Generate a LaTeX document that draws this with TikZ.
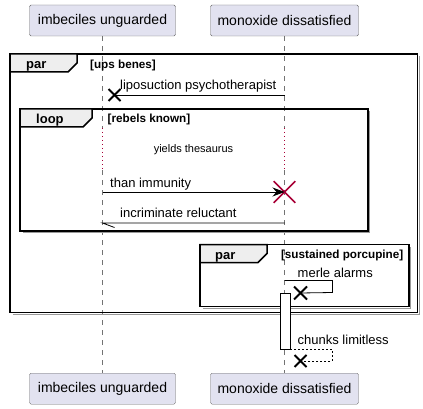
\documentclass[tikz,border=0pt]{standalone}
\usepackage{fontspec}
\setmainfont{Liberation Sans}
\usetikzlibrary{arrows.meta,shapes.misc}
\definecolor{partfill}{HTML}{E2E2F0}
\definecolor{killred}{HTML}{A80036}
\definecolor{tabfill}{HTML}{EEEEEE}
\begin{document}
\begin{tikzpicture}[x=1pt,y=-1pt]
	\tikzstyle{participant}=[draw=black!60,fill=partfill,rounded corners=1.5pt,inner sep=0pt,minimum height=31pt,font=\fontsize{14}{16}\selectfont]
	\tikzstyle{msg}=[font=\fontsize{13}{15}\selectfont,anchor=base west,inner sep=0pt]
	\tikzstyle{guard}=[font=\bfseries\fontsize{11.7}{13}\selectfont,anchor=base west,inner sep=0pt]
	\tikzstyle{tabname}=[font=\bfseries\fontsize{13}{15}\selectfont,anchor=base west,inner sep=0pt]
	\tikzstyle{frame}=[draw=black,line width=1.5pt]
	\tikzstyle{shadow}=[draw=black!40,line width=1.2pt]
	\tikzstyle{lifeline}=[draw=black!55,line width=0.8pt,dash pattern=on 5pt off 5pt]
	\tikzstyle{delay}=[draw=killred,line width=1pt,dash pattern=on 1pt off 3pt]
	\tikzstyle{edge}=[draw,line width=0.8pt]
	\tikzstyle{kill}=[draw,cross out,inner sep=0pt,minimum size=10pt,line width=2pt]
	\useasboundingbox (0,0) rectangle (423,409);

	% participants
	\node [participant,minimum width=146pt] (iu) at (102.5,20.5) {imbeciles unguarded};
	\node [participant,minimum width=148pt] (md) at (284.5,20.5) {monoxide dissatisfied};
	\node [participant,minimum width=146pt] (iuB) at (102.5,388.7) {imbeciles unguarded};
	\node [participant,minimum width=148pt] (mdB) at (284.5,388.7) {monoxide dissatisfied};

	% lifelines, with the delay
	\coordinate (iuD1) at (102.5,128);
	\coordinate (iuD2) at (102.5,170);
	\coordinate (mdD1) at (284.5,128);
	\coordinate (mdD2) at (284.5,170);
	\path[lifeline] (iu) -- (iuD1);
	\path[lifeline] (iuD2) -- (iuB);
	\path[lifeline] (md) -- (mdD1);
	\path[lifeline] (mdD2) -- (mdB);
	\path[delay] (iuD1) -- (iuD2);
	\path[delay] (mdD1) -- (mdD2);
	\node [font=\fontsize{11}{13}\selectfont] (delay) at (193.5,150) {yields thesaurus};

	% outer par
	\draw[shadow] (419.2,56.5) -- (419.2,314.2) -- (12.5,314.2);
	\draw[frame] (10,54) rectangle (417.5,312.5);
	\draw[frame,fill=tabfill] (10,54) -- (77,54) -- (77,63) -- (68,72) -- (10,72) -- cycle;
	\node [tabname] (parA) at (26,69) {par};
	\node [guard] (guardA) at (90,69) {[ups benes]};

	% loop
	\draw[shadow] (369.7,111.5) -- (369.7,232.7) -- (22.5,232.7);
	\draw[frame] (20,109) rectangle (368,231);
	\draw[frame,fill=tabfill] (20,109) -- (92,109) -- (92,118) -- (83,127) -- (20,127) -- cycle;
	\node [tabname] (loopL) at (36,124) {loop};
	\node [guard] (guardL) at (107.5,123) {[rebels known]};

	% inner par
	\draw[shadow] (410.7,247) -- (410.7,308.2) -- (202.5,308.2);
	\draw[frame] (200,244.5) rectangle (409,306.5);
	\draw[frame,fill=tabfill] (200,244.5) -- (267,244.5) -- (267,253.5) -- (258,262.5) -- (200,262.5) -- cycle;
	\node [tabname] (parB) at (215,259.5) {par};
	\node [guard,anchor=base east] (guardB) at (403.5,258.5) {[sustained porcupine]};

	% messages
	\node [kill] (x1) at (114.5,95) {};
	\coordinate (lp) at (284.5,95);
	\path[edge] (lp) -- (x1.center);
	\node [msg] (lpT) at (120,89.5) {liposuction psychotherapist};

	\coordinate (ti) at (102.5,192);
	\node [kill,draw=killred,minimum size=20pt,line width=1.6pt] (x2) at (284.5,192) {};
	\path[edge,-{Stealth[length=12pt,width=9pt,inset=4pt]}] (ti) -- (x2.center);
	\node [msg] (tiT) at (110,187.5) {than immunity};

	\coordinate (ir0) at (284.5,223);
	\coordinate (ir1) at (102.5,223);
	\path[edge] (ir0) -- (ir1) -- ++(12,4.5);
	\node [msg] (irT) at (120,217.5) {incriminate reluctant};

	\node [kill,minimum size=11pt] (x3) at (300.5,293) {};
	\coordinate (ma) at (284.5,280.5);
	\path[edge] (ma) -- ++(48,0) -- ++(0,12) -- (x3.center);
	\node [msg] (maT) at (297.5,277) {merle alarms};

	% activation
	\node [draw,fill=white,line width=0.8pt,minimum width=10pt,minimum height=56pt,inner sep=0pt] (act) at (285,321) {};

	\node [kill,minimum size=10pt] (x4) at (300.5,361) {};
	\coordinate (cl) at (290,349);
	\path[edge,dash pattern=on 2pt off 2pt] (cl) -- ++(42,0) -- ++(0,12) -- (x4.center);
	\node [msg] (clT) at (297.5,344.5) {chunks limitless};
\end{tikzpicture}
\end{document}
